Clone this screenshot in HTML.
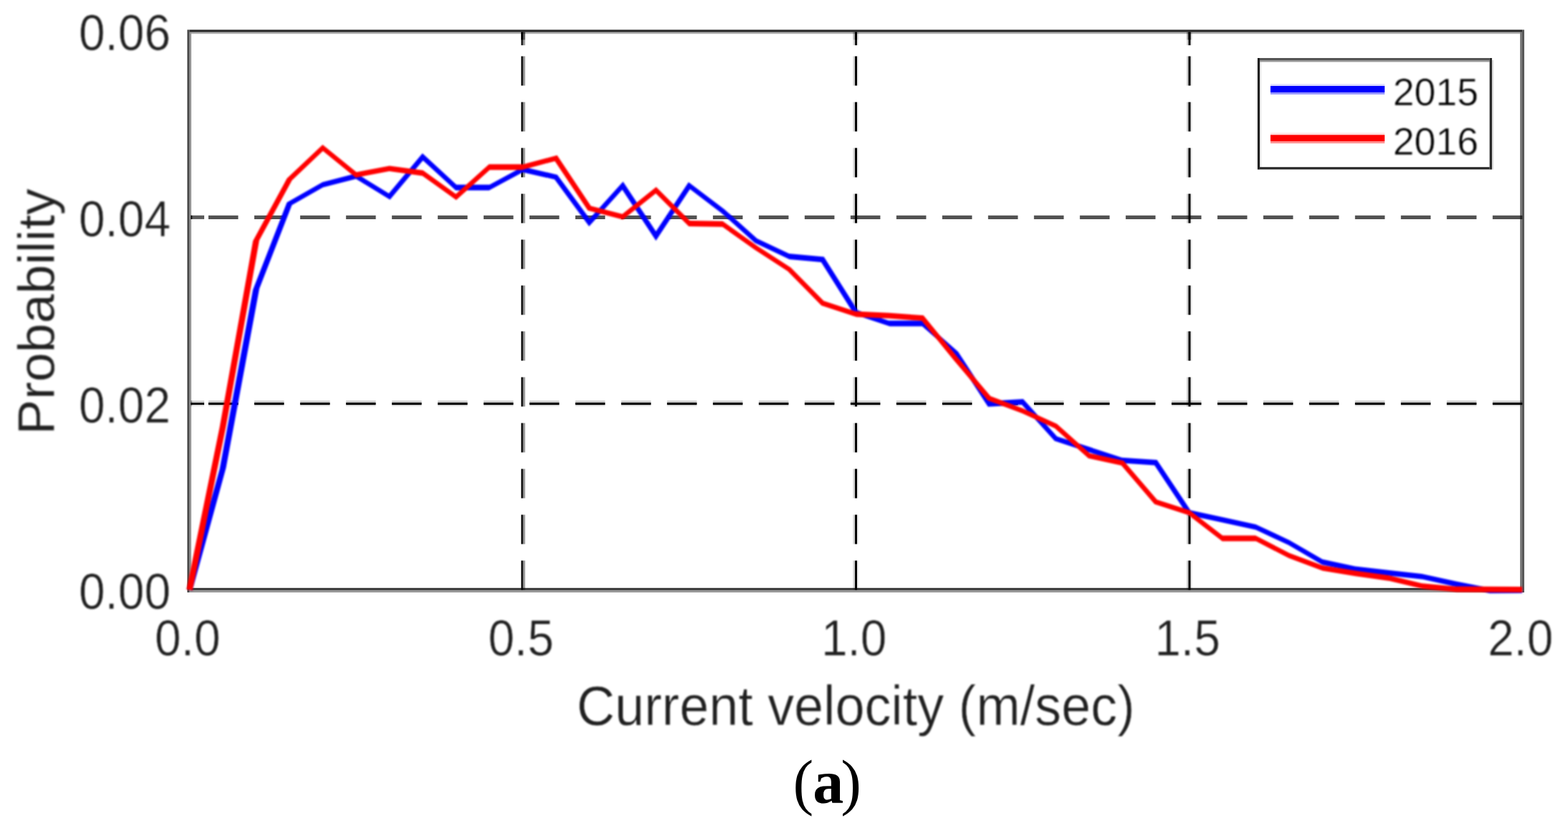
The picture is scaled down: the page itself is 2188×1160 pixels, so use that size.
<!DOCTYPE html>
<html lang="en">
<head>
<meta charset="utf-8">
<title>Current velocity probability</title>
<style>
html,body{margin:0;padding:0;background:#fff;overflow:hidden;}
body{width:2188px;height:1160px;overflow:hidden;}
svg{display:block;}
text{font-family:"Liberation Sans",sans-serif;fill:#202020;}
#text text{stroke:#fff;stroke-width:0.6px;stroke-linejoin:miter;}
#text text.ylab{stroke-width:0.3px;}
.tick{font-size:70.0px;}
.lab{font-size:77.0px;}
.leg{font-size:54.2px;fill:#000;}
.ylab{font-size:73.0px;}
.cap{font-family:"Liberation Serif",serif;font-size:86px;fill:#000;}
</style>
</head>
<body>
<svg width="2188" height="1160" viewBox="0 0 2188 1160">
<defs>
<filter id="fl" x="0" y="0" width="2188" height="1160" filterUnits="userSpaceOnUse" color-interpolation-filters="sRGB"><feGaussianBlur stdDeviation="0.5"/></filter>
<filter id="fs" x="0" y="0" width="2188" height="1160" filterUnits="userSpaceOnUse" color-interpolation-filters="sRGB"><feGaussianBlur stdDeviation="0.9"/></filter>
</defs>
<rect x="0" y="0" width="2188" height="1160" fill="#fff"/>

<g id="frame" filter="url(#fl)" fill="none">
<line x1="2124.4" x2="266" y1="303.30" y2="303.30" stroke="#000" stroke-opacity="0.68" stroke-width="5.20" stroke-dasharray="41.6 22.4"/>
<line x1="266" x2="285" y1="303.30" y2="303.30" stroke="#000" stroke-opacity="0.646" stroke-width="5.20"/>
<line x1="2124.4" x2="266" y1="560.70" y2="560.70" stroke="#000" stroke-opacity="0.2" stroke-width="2.80" stroke-dasharray="41.6 22.4"/>
<line x1="266" x2="285" y1="560.70" y2="560.70" stroke="#000" stroke-opacity="0.19" stroke-width="2.80"/>
<line x1="2124.4" x2="266" y1="563.65" y2="563.65" stroke="#000" stroke-opacity="0.98" stroke-width="3.10" stroke-dasharray="41.6 22.4"/>
<line x1="266" x2="285" y1="563.65" y2="563.65" stroke="#000" stroke-opacity="0.9309999999999999" stroke-width="3.10"/>
<line x1="2124.4" x2="266" y1="566.50" y2="566.50" stroke="#000" stroke-opacity="0.06" stroke-width="2.60" stroke-dasharray="41.6 22.4"/>
<line x1="266" x2="285" y1="566.50" y2="566.50" stroke="#000" stroke-opacity="0.056999999999999995" stroke-width="2.60"/>
<line x1="728.55" x2="728.55" y1="823.4" y2="44.5" stroke="#000" stroke-opacity="0.87" stroke-width="2.90" stroke-dasharray="40.8 23.2"/>
<line x1="728.55" x2="728.55" y1="45" y2="63.2" stroke="#000" stroke-opacity="0.8265" stroke-width="2.90"/>
<line x1="731.40" x2="731.40" y1="823.4" y2="44.5" stroke="#000" stroke-opacity="0.4" stroke-width="2.80" stroke-dasharray="40.8 23.2"/>
<line x1="731.40" x2="731.40" y1="45" y2="63.2" stroke="#000" stroke-opacity="0.38" stroke-width="2.80"/>
<line x1="1191.55" x2="1191.55" y1="823.4" y2="44.5" stroke="#000" stroke-opacity="0.15" stroke-width="2.70" stroke-dasharray="40.8 23.2"/>
<line x1="1191.55" x2="1191.55" y1="45" y2="63.2" stroke="#000" stroke-opacity="0.1425" stroke-width="2.70"/>
<line x1="1194.45" x2="1194.45" y1="823.4" y2="44.5" stroke="#000" stroke-opacity="0.98" stroke-width="3.10" stroke-dasharray="40.8 23.2"/>
<line x1="1194.45" x2="1194.45" y1="45" y2="63.2" stroke="#000" stroke-opacity="0.9309999999999999" stroke-width="3.10"/>
<line x1="1197.20" x2="1197.20" y1="823.4" y2="44.5" stroke="#000" stroke-opacity="0.07" stroke-width="2.40" stroke-dasharray="40.8 23.2"/>
<line x1="1197.20" x2="1197.20" y1="45" y2="63.2" stroke="#000" stroke-opacity="0.0665" stroke-width="2.40"/>
<line x1="1657.10" x2="1657.10" y1="823.4" y2="44.5" stroke="#000" stroke-opacity="0.2" stroke-width="2.40" stroke-dasharray="40.8 23.2"/>
<line x1="1657.10" x2="1657.10" y1="45" y2="63.2" stroke="#000" stroke-opacity="0.19" stroke-width="2.40"/>
<line x1="1659.85" x2="1659.85" y1="823.4" y2="44.5" stroke="#000" stroke-opacity="0.98" stroke-width="3.10" stroke-dasharray="40.8 23.2"/>
<line x1="1659.85" x2="1659.85" y1="45" y2="63.2" stroke="#000" stroke-opacity="0.9309999999999999" stroke-width="3.10"/>
<line x1="1662.50" x2="1662.50" y1="823.4" y2="44.5" stroke="#000" stroke-opacity="0.07" stroke-width="2.20" stroke-dasharray="40.8 23.2"/>
<line x1="1662.50" x2="1662.50" y1="45" y2="63.2" stroke="#000" stroke-opacity="0.0665" stroke-width="2.20"/>
<line x1="262.85" x2="262.85" y1="41.5" y2="826.9" stroke="#000" stroke-opacity="0.71" stroke-width="3.10"/>
<line x1="265.70" x2="265.70" y1="44.7" y2="823.8" stroke="#000" stroke-opacity="0.4" stroke-width="2.60"/>
<line x1="2122.55" x2="2122.55" y1="44.7" y2="823.8" stroke="#000" stroke-opacity="0.53" stroke-width="2.90"/>
<line x1="2125.50" x2="2125.50" y1="41.5" y2="826.9" stroke="#000" stroke-opacity="0.65" stroke-width="3.00"/>
<line x1="264.4" x2="2124.0" y1="43.10" y2="43.10" stroke="#000" stroke-opacity="0.84" stroke-width="3.20"/>
<line x1="267.0" x2="2121.1" y1="45.95" y2="45.95" stroke="#000" stroke-opacity="0.33" stroke-width="2.50"/>
<line x1="267.0" x2="2121.1" y1="822.30" y2="822.30" stroke="#000" stroke-opacity="0.8" stroke-width="3.00"/>
<line x1="264.4" x2="2124.0" y1="825.35" y2="825.35" stroke="#000" stroke-opacity="0.4" stroke-width="3.10"/>
</g>
<g id="curves" filter="url(#fs)">
<path d="M260.4 822.4 L306.4 654.9 L352.9 404.4 L400.4 282.4 L450.0 254.3 L497.1 242.1 L542.6 269.9 L589.5 214.1 L636.9 257.7 L683.2 257.7 L729.3 232.8 L777.7 243.9 L822.7 305.3 L869.4 253.6 L915.3 323.1 L960.8 254.3 L1010.6 291.9 L1056.5 332.9 L1101.0 354.1 L1149.7 358.6 L1196.7 433.1 L1239.9 447.5 L1287.8 447.5 L1337.0 490.9 L1381.9 559.8 L1427.8 556.9 L1475.0 609.2 L1520.9 624.1 L1565.5 638.7 L1614.5 642.0 L1661.3 712.3 L1706.5 722.1 L1752.3 731.9 L1799.7 754.2 L1845.5 780.8 L1890.8 790.4 L1938.7 796.0 L1983.8 801.0 L2032.0 811.6 L2076.6 820.2 L2124.2 820.0 L2124.2 828.0 L2078.8 828.2 L2030.5 818.8 L1985.6 808.8 L1937.8 803.6 L1892.6 798.2 L1844.9 788.2 L1797.8 760.8 L1752.2 739.5 L1705.0 729.3 L1657.2 718.9 L1611.0 649.6 L1567.0 646.5 L1518.7 630.9 L1471.6 615.6 L1425.8 564.9 L1378.6 567.8 L1330.6 494.1 L1286.8 455.5 L1241.6 455.5 L1191.9 438.9 L1145.9 366.0 L1101.6 361.9 L1053.2 338.9 L1006.1 296.9 L962.8 264.1 L915.3 336.1 L868.3 264.8 L822.0 316.1 L773.9 250.5 L729.4 240.4 L682.5 265.7 L635.8 265.7 L590.2 223.9 L544.2 278.7 L496.7 249.7 L450.8 261.5 L407.3 286.2 L361.9 403.0 L315.4 653.1 L268.4 824.6Z" fill="#0000ff"/>
<path d="M260.2 822.7 L306.7 595.2 L353.0 336.3 L400.4 249.1 L450.2 202.0 L497.4 240.2 L543.5 231.5 L590.3 237.8 L636.1 270.8 L682.3 229.3 L730.4 229.3 L777.4 216.7 L824.5 287.4 L868.4 298.8 L915.6 261.0 L962.6 308.0 L1008.5 308.7 L1056.7 343.2 L1103.5 373.5 L1149.4 420.1 L1193.5 434.5 L1241.0 436.8 L1288.6 440.2 L1336.4 498.8 L1382.2 552.9 L1427.2 569.9 L1474.9 591.8 L1520.8 632.8 L1567.8 643.0 L1614.6 697.5 L1660.3 712.2 L1706.0 747.4 L1751.9 747.6 L1799.3 772.0 L1844.9 788.9 L1892.3 796.8 L1937.5 803.1 L1983.9 814.3 L2029.8 818.5 L2077.7 818.8 L2124.2 819.0 L2124.2 827.0 L2077.7 826.8 L2032.6 826.5 L1985.6 822.1 L1939.0 810.9 L1891.2 804.2 L1845.6 796.7 L1798.2 779.0 L1752.6 755.6 L1705.5 755.4 L1658.2 719.0 L1611.0 703.7 L1564.7 649.8 L1518.7 639.8 L1471.7 597.8 L1426.4 577.1 L1378.3 558.9 L1331.2 503.2 L1286.0 447.8 L1240.6 444.6 L1195.1 442.5 L1146.3 426.5 L1099.1 378.5 L1052.9 348.6 L1008.2 316.7 L961.1 316.0 L915.1 270.0 L869.3 306.6 L820.2 293.8 L774.3 224.9 L728.3 237.3 L683.4 237.3 L636.6 279.2 L589.4 245.4 L543.2 239.1 L496.4 248.0 L450.6 210.8 L407.4 251.7 L361.8 335.5 L315.1 596.8 L268.6 824.3Z" fill="#ff0000"/>
</g>
<g id="legend-box" filter="url(#fl)">
<rect x="1754.8" y="81" width="327.6" height="155.6" fill="#fff"/>
<line x1="1757.9" x2="2078.6" y1="82.55" y2="82.55" stroke="#000" stroke-opacity="0.67" stroke-width="3.10"/>
<line x1="1757.9" x2="2078.6" y1="85.35" y2="85.35" stroke="#000" stroke-opacity="0.4" stroke-width="2.50"/>
<line x1="1757.9" x2="2078.6" y1="234.90" y2="234.90" stroke="#000" stroke-opacity="0.85" stroke-width="3.40"/>
<line x1="1756.35" x2="1756.35" y1="81.0" y2="236.6" stroke="#000" stroke-opacity="0.9" stroke-width="3.10"/>
<line x1="1753.70" x2="1753.70" y1="84.0" y2="236.6" stroke="#000" stroke-opacity="0.06" stroke-width="2.20"/>
<line x1="1759.05" x2="1759.05" y1="86.6" y2="233.2" stroke="#000" stroke-opacity="0.08" stroke-width="2.30"/>
<line x1="2080.25" x2="2080.25" y1="81.0" y2="236.6" stroke="#000" stroke-opacity="0.85" stroke-width="3.30"/>
<line x1="2083.05" x2="2083.05" y1="84.0" y2="236.6" stroke="#000" stroke-opacity="0.13" stroke-width="2.30"/>
<rect x="1772.8" y="117.0" width="159.4" height="2.9" fill="#0000ff" fill-opacity="0.12"/>
<rect x="1772.8" y="119.9" width="159.4" height="9.0" fill="#0000ff"/>
<rect x="1772.8" y="128.9" width="159.4" height="2.9" fill="#0000ff" fill-opacity="0.42"/>
<rect x="1772.8" y="185.4" width="159.4" height="2.9" fill="#ff0000" fill-opacity="0.12"/>
<rect x="1772.8" y="188.3" width="159.4" height="9.0" fill="#ff0000"/>
<rect x="1772.8" y="197.3" width="159.4" height="2.9" fill="#ff0000" fill-opacity="0.42"/>
</g>
<g id="text" filter="url(#fs)">
<text class="leg" transform="translate(1943.8 147.2) scale(0.989 1)">2015</text>
<text class="leg" transform="translate(1943.8 215.6) scale(0.989 1)">2016</text>
<text class="tick" transform="translate(238.0 849.8) scale(0.94 1)" text-anchor="end">0.00</text>
<text class="tick" transform="translate(238.0 589.9) scale(0.94 1)" text-anchor="end">0.02</text>
<text class="tick" transform="translate(238.0 329.8) scale(0.94 1)" text-anchor="end">0.04</text>
<text class="tick" transform="translate(238.0 70.0) scale(0.94 1)" text-anchor="end">0.06</text>
<text class="tick" transform="translate(261.8 914.8) scale(0.94 1)" text-anchor="middle">0.0</text>
<text class="tick" transform="translate(727.0 914.8) scale(0.94 1)" text-anchor="middle">0.5</text>
<text class="tick" transform="translate(1191.7 914.8) scale(0.94 1)" text-anchor="middle">1.0</text>
<text class="tick" transform="translate(1657.0 914.8) scale(0.94 1)" text-anchor="middle">1.5</text>
<text class="tick" transform="translate(2121.6 914.8) scale(0.94 1)" text-anchor="middle">2.0</text>
<text class="lab" transform="translate(1194.1 1012.2) scale(0.958 1)" text-anchor="middle">Current velocity (m/sec)</text>
<text class="ylab" transform="translate(75.6 435.0) rotate(-90) scale(1.008 1)" text-anchor="middle">Probability</text>
</g>
<g id="caption">
<text class="cap" y="1120.6"><tspan x="1106.4">(</tspan><tspan x="1134.2" font-weight="bold">a</tspan><tspan x="1173.2">)</tspan></text>
</g>
</svg>
</body>
</html>
